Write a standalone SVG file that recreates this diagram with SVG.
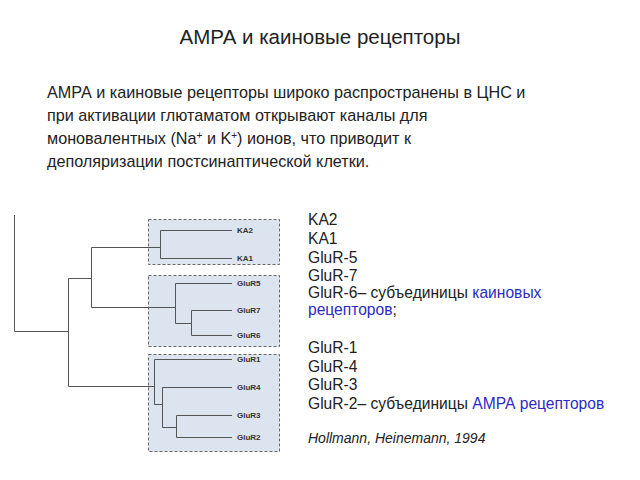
<svg xmlns="http://www.w3.org/2000/svg" width="640" height="480" viewBox="0 0 640 480">
<style>
text{font-family:"Liberation Sans",Arial,sans-serif;fill:#222}
.t{font-size:20.5px}
.p{font-size:16.2px}
.l{font-size:15.6px}
.b{fill:#2b2bc4}
.i{font-style:italic}
.box{fill:#dce4ef;stroke:#666;stroke-width:1;stroke-dasharray:3 2}
.leaf{font-size:8px;font-weight:bold;fill:#333}
.tree{fill:none;stroke:#555;stroke-width:1}
</style>
<rect width="640" height="480" fill="#fff"/>
<text class="t" x="320" y="44" text-anchor="middle">АМРА и каиновые рецепторы</text>
<g id="paragraph" class="p">
<text x="47" y="98">АМРА и каиновые рецепторы широко распространены в ЦНС и</text>
<text x="47" y="121">при активации глютаматом открывают каналы для</text>
<text x="47" y="144">моновалентных (Na<tspan font-size="10" baseline-shift="super">+</tspan> и K<tspan font-size="10" baseline-shift="super">+</tspan>) ионов, что приводит к</text>
<text x="47" y="167">деполяризации постсинаптической клетки.</text>
</g>
<g id="box-kainate1"><rect class="box" x="148.5" y="219.5" width="131" height="45"/></g>
<g id="box-kainate2"><rect class="box" x="148.5" y="275.5" width="131" height="71"/></g>
<g id="box-ampa"><rect class="box" x="148.5" y="354.5" width="131" height="97"/></g>
<g id="connectors" class="tree">
<path d="M14.5 215V331.5H68.5"/>
<path d="M68.5 278.5V386.5"/>
<path d="M68.5 278.5H91.5"/>
<path d="M91.5 247.5V307.5"/>
<path d="M91.5 247.5H160.5"/>
<path d="M160.5 230.5V258.5"/>
<path d="M160.5 230.5H232M160.5 258.5H232"/>
<path d="M91.5 307.5H175.5"/>
<path d="M175.5 283.5V323.5H191.5"/>
<path d="M175.5 283.5H232"/>
<path d="M191.5 310.5V335.5"/>
<path d="M191.5 310.5H232M191.5 335.5H232"/>
<path d="M68.5 386.5H154.5"/>
<path d="M154.5 359.5V404.5H162.5"/>
<path d="M154.5 359.5H232"/>
<path d="M162.5 387.5V427.5H176.5"/>
<path d="M162.5 387.5H232"/>
<path d="M176.5 415.5V437.5"/>
<path d="M176.5 415.5H232M176.5 437.5H232"/>
</g>
<g id="leaf-KA2"><text class="leaf" x="237" y="233">KA2</text></g>
<g id="leaf-KA1"><text class="leaf" x="237" y="261">KA1</text></g>
<g id="leaf-GluR5"><text class="leaf" x="237" y="286">GluR5</text></g>
<g id="leaf-GluR7"><text class="leaf" x="237" y="313">GluR7</text></g>
<g id="leaf-GluR6"><text class="leaf" x="237" y="338">GluR6</text></g>
<g id="leaf-GluR1"><text class="leaf" x="237" y="362">GluR1</text></g>
<g id="leaf-GluR4"><text class="leaf" x="237" y="390">GluR4</text></g>
<g id="leaf-GluR3"><text class="leaf" x="237" y="418">GluR3</text></g>
<g id="leaf-GluR2"><text class="leaf" x="237" y="440">GluR2</text></g>
<g id="list" class="l">
<text x="308" y="225">KA2</text>
<text x="308" y="244">KA1</text>
<text x="308" y="263">GluR-5</text>
<text x="308" y="281">GluR-7</text>
<text x="308" y="298">GluR-6– субъединицы <tspan class="b">каиновых</tspan></text>
<text x="308" y="315"><tspan class="b">рецепторов</tspan>;</text>
<text x="308" y="353">GluR-1</text>
<text x="308" y="372">GluR-4</text>
<text x="308" y="390">GluR-3</text>
<text x="308" y="409">GluR-2– субъединицы <tspan class="b">АМРА рецепторов</tspan></text>
<text class="i" x="308" y="443" font-size="14">Hollmann, Heinemann, 1994</text>
</g>
</svg>
